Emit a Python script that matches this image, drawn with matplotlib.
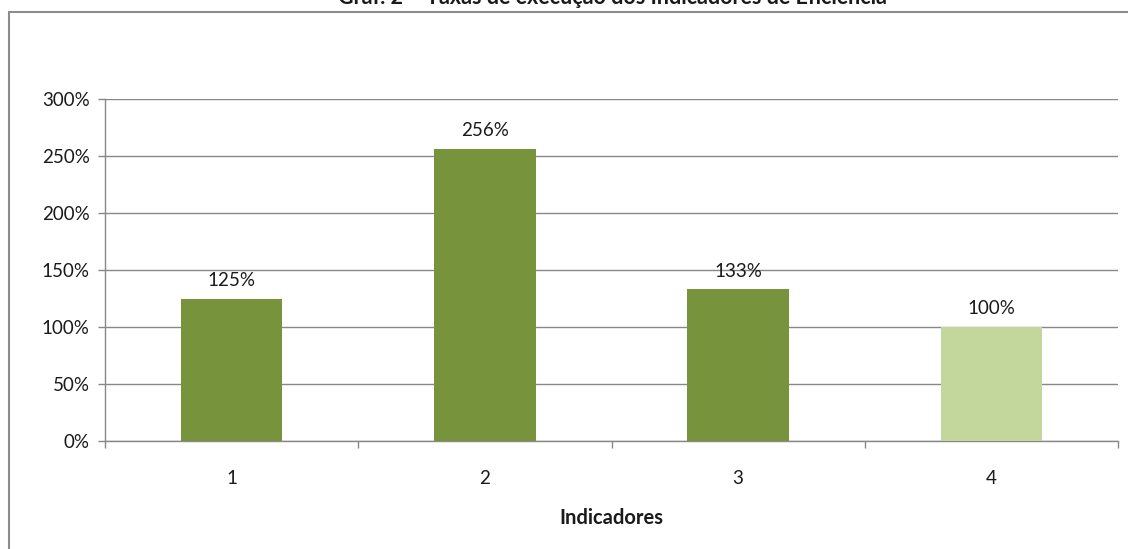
import matplotlib
matplotlib.use("Agg")
import matplotlib.pyplot as plt
from matplotlib.patches import Rectangle
from matplotlib.ticker import FuncFormatter, FixedLocator

categories = ["1", "2", "3", "4"]
values = [125, 256, 133, 100]
colors = ["#77933C", "#77933C", "#77933C", "#C3D69B"]
title = "Gráf. 2 – Taxas de execução dos Indicadores de Eficiência"
xlabel = "Indicadores"

plt.rcParams['font.family'] = ['Lato', 'DejaVu Sans']

W, H = 1128, 549
fig = plt.figure(figsize=(W / 100, H / 100), dpi=100)
ax = fig.add_axes([105 / W, 1 - 441 / H, (1118 - 105) / W, (441 - 99) / H])

# outer chart border
fig.patches.append(Rectangle((8.5 / W, -0.1), 1.2, 1 - 12.5 / H + 0.1, transform=fig.transFigure,
                             fill=False, edgecolor="#8c8c8c", linewidth=1.5, zorder=0))

FS = 13.5
x = list(range(len(categories)))
ax.bar(x, values, width=0.4, color=colors, zorder=3)
for xi, v in zip(x, values):
    ax.annotate(f"{v}%", (xi, v), xytext=(0, 7), textcoords="offset points",
                ha="center", va="bottom", fontsize=FS, color="#1a1a1a")

ax.set_xlim(-0.5, len(categories) - 0.5)
ax.set_ylim(0, 300)
ax.set_yticks([0, 50, 100, 150, 200, 250, 300])
ax.yaxis.set_major_formatter(FuncFormatter(lambda v, p: f"{int(v)}%"))
ax.set_xticks(x)
ax.set_xticklabels(categories)
ax.xaxis.set_minor_locator(FixedLocator([i - 0.5 for i in range(len(categories) + 1)]))
ax.tick_params(axis="x", which="major", length=0, pad=21, labelsize=FS, labelcolor="#1a1a1a")
ax.tick_params(axis="x", which="minor", length=5, color="#888888", width=1)
ax.tick_params(axis="y", length=5, color="#888888", width=1, labelsize=FS, labelcolor="#1a1a1a", pad=6)

ax.grid(axis="y", color="#888888", linewidth=1, zorder=0)
ax.set_axisbelow(True)
for s in ["top", "right"]:
    ax.spines[s].set_visible(False)
for s in ["left", "bottom"]:
    ax.spines[s].set_color("#888888")
    ax.spines[s].set_linewidth(1)

ax.set_xlabel(xlabel, fontsize=14.5, fontweight="bold", labelpad=15, color="#1a1a1a")

fig.text(612 / W, 1 - 4 / H, title, ha="center", va="baseline", fontsize=15.5, fontweight="bold", color="#1a1a1a")

fig.savefig("out.png", dpi=100)
